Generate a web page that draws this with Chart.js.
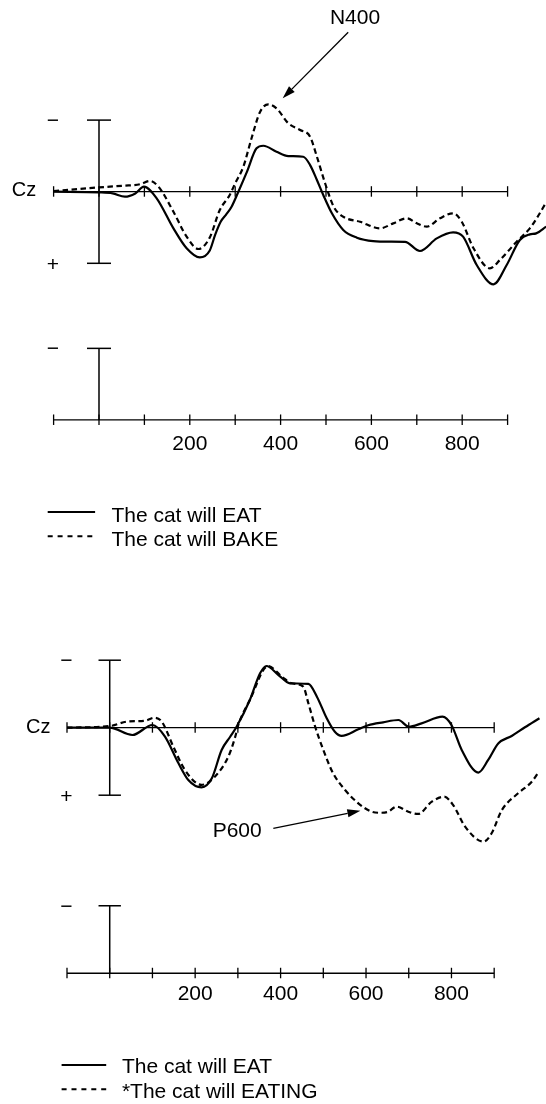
<!DOCTYPE html>
<html><head><meta charset="utf-8">
<script src="https://cdn.jsdelivr.net/npm/chart.js@4.4.1/dist/chart.umd.min.js"></script>
<style>
html,body{margin:0;padding:0;background:#fff;width:546px;height:1104px;overflow:hidden}
canvas{position:absolute;left:0}
#c1{top:0}
#c2{top:552px}
</style></head><body>
<canvas id="c1" width="546" height="552"></canvas>
<canvas id="c2" width="546" height="552"></canvas>
<script>
// ---------- DATA (time in ms, amplitude in µV; negative plotted up) ----------
const eatTimesA   = [-100,0,30,57,80,99,127,164,193,222,244,256,268,280,292,307,326,347,362,391,417,450,465,480,494,513,538,568,604,641,674,707,744,780,802,832,869,898,927,949,963,985];
const eatValuesA  = [0,0.05,0.12,0.35,0.12,-0.35,0.46,2.56,3.95,4.59,4.1,3.0,2.1,1.6,1.05,0,-1.4,-3.03,-3.21,-2.79,-2.49,-2.44,-1.86,-0.82,0.23,1.51,2.67,3.21,3.45,3.49,3.5,4.14,3.26,2.84,3.14,5.12,6.47,5.12,3.37,2.98,2.91,2.44];
const bakeTimes   = [-100,0,54,90,112,131,164,193,219,244,266,288,300,318,336,355,373,391,417,443,465,480,498,517,538,575,619,648,678,700,722,751,780,799,825,861,883,920,949,964,985];
const bakeValues  = [-0.05,-0.3,-0.42,-0.52,-0.75,-0.35,1.4,3.14,4.0,3.2,1.28,0.23,-0.59,-1.75,-3.73,-5.59,-6.1,-5.82,-4.78,-4.31,-3.84,-2.44,-0.59,1.05,1.75,2.1,2.56,2.21,1.86,2.21,2.44,1.86,1.51,2.1,3.95,5.35,4.77,3.49,2.56,1.86,0.74];

const eatTimesB   = [-100,0,53,100,129,161,184,215,239,262,282,297,328,352,367,395,422,465,485,508,527,543,582,605,640,676,700,730,779,800,824,863,886,910,941,972,1006];
const eatValuesB  = [0,0,0.54,-0.2,0.64,2.64,3.87,4.42,3.75,1.65,0.67,-0.07,-2.05,-4.03,-4.57,-3.9,-3.29,-3.24,-2.3,-0.7,0.3,0.61,0.12,-0.18,-0.4,-0.57,-0.07,-0.32,-0.82,-0.2,1.65,3.33,2.39,1.16,0.61,-0.03,-0.7];
const eatingTimes = [-100,0,44,83,104,122,149,176,215,246,278,293,301,328,371,403,426,453,465,481,500,523,551,582,613,633,650,672,699,722,754,783,804,832,875,894,918,956,988,1003];
const eatingValues= [0,-0.12,-0.47,-0.52,-0.74,-0.44,1.41,3.13,4.24,3.63,2.12,0.76,-0.2,-2.05,-4.57,-3.78,-3.29,-3.04,-1.81,-0.07,1.65,3.38,4.61,5.6,6.22,6.3,6.25,5.85,6.22,6.39,5.48,5.11,5.73,7.33,8.44,7.82,6.1,4.86,4.0,3.33];

const axisTicks   = [-100,0,100,200,300,400,500,600,700,800,900];
const tickLabels  = [200,400,600,800];
const calibration = 5;           // µV half-height of calibration bar
const legendA     = ['The cat will EAT','The cat will BAKE'];
const legendB     = ['The cat will EAT','*The cat will EATING'];
const channel     = 'Cz';

// ---------- helpers ----------
const FONT = '"Liberation Sans", Arial, Helvetica, sans-serif';
function pts(t, v){ return t.map((x,i)=>({x:x, y:v[i]})); }

function arrow(ctx, x1, y1, x2, y2){
  ctx.beginPath(); ctx.moveTo(x1,y1);
  const a = Math.atan2(y2-y1, x2-x1), L = 13, W = 4;
  const bx = x2 - L*Math.cos(a), by = y2 - L*Math.sin(a);
  ctx.lineTo(bx,by); ctx.stroke();
  ctx.beginPath(); ctx.moveTo(x2,y2);
  ctx.lineTo(bx + W*Math.sin(a), by - W*Math.cos(a));
  ctx.lineTo(bx - W*Math.sin(a), by + W*Math.cos(a));
  ctx.closePath(); ctx.fill();
}

function erpPlugin(c){
  return {
    id: 'erp' + c.id,
    beforeDatasetsDraw(chart){
      const ctx = chart.ctx, xs = chart.scales.x, ys = chart.scales.y;
      const X = v=>xs.getPixelForValue(v), Y = v=>ys.getPixelForValue(v);
      ctx.save();
      ctx.strokeStyle = '#000'; ctx.fillStyle = '#000';
      const x0 = X(axisTicks[0]), x1 = X(axisTicks[axisTicks.length-1]);
      // main axis and secondary (scale) axis
      [0, c.offset].forEach(v=>{
        const y = Y(v);
        ctx.lineWidth = 1.3;
        ctx.beginPath(); ctx.moveTo(x0,y); ctx.lineTo(x1,y); ctx.stroke();
        axisTicks.forEach(t=>{ ctx.beginPath(); ctx.moveTo(X(t), y-5.5); ctx.lineTo(X(t), y+5); ctx.stroke(); });
      });
      // calibration bars
      ctx.lineWidth = 1.5;
      const bx = X(0);
      ctx.beginPath(); ctx.moveTo(bx, Y(-calibration)); ctx.lineTo(bx, Y(calibration)); ctx.stroke();
      [-calibration, calibration].forEach(v=>{ ctx.beginPath(); ctx.moveTo(bx-c.cap, Y(v)); ctx.lineTo(bx+c.cap, Y(v)); ctx.stroke(); });
      ctx.beginPath(); ctx.moveTo(bx, Y(c.offset-calibration)); ctx.lineTo(bx, Y(c.offset)); ctx.stroke();
      ctx.beginPath(); ctx.moveTo(bx-c.cap, Y(c.offset-calibration)); ctx.lineTo(bx+c.cap, Y(c.offset-calibration)); ctx.stroke();
      ctx.restore();
    },
    afterDraw(chart){
      const ctx = chart.ctx, xs = chart.scales.x, ys = chart.scales.y;
      const X = v=>xs.getPixelForValue(v), Y = v=>ys.getPixelForValue(v);
      ctx.save();
      ctx.fillStyle = '#000'; ctx.strokeStyle = '#000';
      ctx.textBaseline = 'alphabetic';
      // channel label
      ctx.font = '20px ' + FONT; ctx.textAlign = 'left';
      ctx.fillText(channel, c.czX, Y(0) + c.czDy);
      // polarity labels
      ctx.font = '21px ' + FONT; ctx.textAlign = 'center';
      ctx.fillText('\u2212', c.signX, Y(-calibration) + 7);
      ctx.fillText('+', c.signX, Y(calibration) + 7.5);
      ctx.fillText('\u2212', c.signX, Y(c.offset-calibration) + 7);
      // tick labels
      tickLabels.forEach(t=>ctx.fillText(String(t), X(t), Y(c.offset) + c.labelDy));
      // legend
      c.legend.forEach((txt,i)=>{
        const ly = c.legY + i*c.legGap;
        ctx.lineWidth = 2;
        ctx.setLineDash(i===1 ? [5,4.9] : []);
        ctx.beginPath(); ctx.moveTo(c.legX0, ly); ctx.lineTo(c.legX1, ly); ctx.stroke();
        ctx.setLineDash([]);
        ctx.textAlign = 'left';
        ctx.fillText(txt, c.legText, ly + c.legTextDy);
      });
      // annotation
      const a = c.note;
      ctx.textAlign = a.align;
      ctx.fillText(a.text, X(a.tx), Y(a.ty));
      ctx.lineWidth = 1.3;
      arrow(ctx, X(a.from[0]), Y(a.from[1]), X(a.to[0]), Y(a.to[1]));
      ctx.restore();
    }
  };
}

function makeChart(id, sets, c){
  return new Chart(document.getElementById(id), {
    type: 'line',
    data: { datasets: sets.map((s,i)=>({
      data: pts(s[0], s[1]),
      borderColor: '#000', borderWidth: 2.2,
      borderDash: i===1 ? [5.5,3.5] : [],
      pointRadius: 0, fill: false,
      cubicInterpolationMode: 'monotone'
    }))},
    options: {
      responsive: false, animation: false, devicePixelRatio: 1, events: [],
      layout: { padding: { left: c.padLeft, right: 0, top: 0, bottom: 0 } },
      scales: {
        x: { type: 'linear', min: -100, max: c.xMax, display: false },
        y: { type: 'linear', min: c.yMin, max: c.yMax, reverse: true, display: false }
      },
      plugins: { legend: { display: false }, tooltip: { enabled: false } }
    },
    plugins: [erpPlugin(c)]
  });
}

makeChart('c1', [[eatTimesA, eatValuesA],[bakeTimes, bakeValues]], {
  id: 'A', padLeft: 53.6, xMax: 984.6, yMin: -13.387, yMax: 25.16,
  offset: 15.94, cap: 12, czX: 11.7, czDy: 4.3, signX: 53, labelDy: 30,
  legend: legendA, legX0: 47.7, legX1: 95.1, legText: 111.4, legY: 512, legGap: 24.3, legTextDy: 9.7,
  note: { text: 'N400', align: 'center', tx: 564, ty: -11.71, from: [548.9, -11.13], to: [404.6, -6.52] }
});

makeChart('c2', [[eatTimesB, eatValuesB],[eatingTimes, eatingValues]], {
  id: 'B', padLeft: 67.0, xMax: 1021.3, yMin: -13.015, yMax: 27.874,
  offset: 18.19, cap: 11.2, czX: 26.1, czDy: 5.6, signX: 66.5, labelDy: 26.7,
  legend: legendB, legX0: 61.6, legX1: 106.2, legText: 121.9, legY: 513, legGap: 24.3, legTextDy: 8.3,
  note: { text: 'P600', align: 'right', tx: 355.8, ty: 8.12, from: [383, 7.45], to: [586.8, 6.15] }
});
</script>
</body></html>
